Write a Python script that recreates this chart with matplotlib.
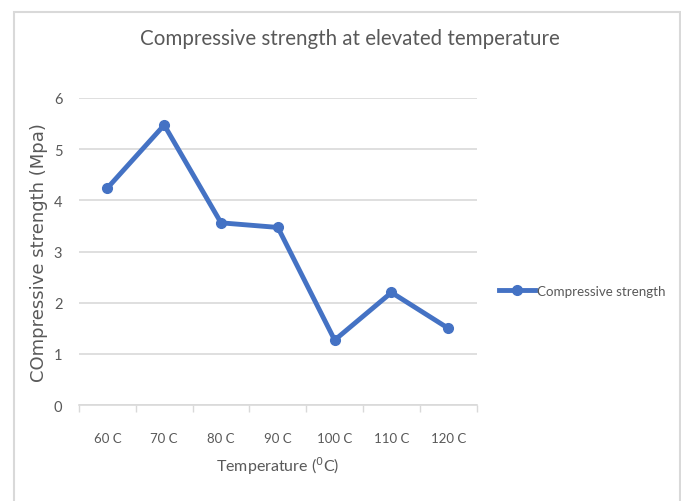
import matplotlib.pyplot as plt
import numpy as np
from matplotlib.patches import Rectangle

temps = ["60 C", "70 C", "80 C", "90 C", "100 C", "110 C", "120 C"]
strength = [4.24, 5.47, 3.56, 3.47, 1.27, 2.2, 1.5]
yticks = [0, 1, 2, 3, 4, 5, 6]

blue = "#4472C4"
grey_txt = "#595959"
grid_c = "#D9D9D9"
font = "Lato"

fig = plt.figure(figsize=(6.81, 5.02), dpi=100)
ax = fig.add_axes([0.116, 0.191, 0.584, 0.612])

x = np.arange(len(temps))
ax.plot(x, strength, "-o", color=blue, linewidth=3.5, markersize=7,
        label="Compressive strength")

ax.set_xlim(-0.5, len(temps) - 0.5)
ax.set_ylim(0, 6)
ax.set_yticks(yticks)
ax.set_yticklabels([str(v) for v in yticks], family=font, fontsize=10.5, color=grey_txt)
ax.set_xticks(x)
ax.set_xticklabels(temps, family=font, fontsize=9.5, color=grey_txt)
ax.tick_params(axis="x", length=0, pad=19)
ax.tick_params(axis="y", length=0, pad=12)
# boundary ticks between categories
ax.set_xticks(np.arange(-0.5, len(temps)), minor=True)
ax.tick_params(axis="x", which="minor", length=5, color=grid_c, width=1)

ax.grid(axis="y", color=grid_c, linewidth=1.2)
ax.set_axisbelow(True)
for s in ["top", "right", "left"]:
    ax.spines[s].set_visible(False)
ax.spines["bottom"].set_color(grid_c)
ax.spines["bottom"].set_linewidth(1.2)

ax.set_xlabel("Temperature ($^0$C)", family=font, fontsize=11.5, color=grey_txt, labelpad=8)
ax.set_ylabel("COmpressive strength (Mpa)", family="DejaVu Sans", fontsize=13,
              color=grey_txt, labelpad=4)

fig.text(0.514, 0.922, "Compressive strength at elevated temperature", family=font,
         fontsize=14.8, color=grey_txt, ha="center", va="center")

fig.legend(loc="center left", bbox_to_anchor=(0.733, 0.418), frameon=False,
           prop={"family": font, "size": 9.6}, labelcolor=grey_txt,
           handlelength=2.7, handletextpad=0.1, borderpad=0, borderaxespad=0)

# outer chart border
fig.add_artist(Rectangle((14 / 681, -0.05), 666 / 681, 1 - 13 / 502 + 0.05,
                         transform=fig.transFigure, fill=False,
                         edgecolor=grid_c, linewidth=1.5))

fig.savefig("out.png", dpi=100)
